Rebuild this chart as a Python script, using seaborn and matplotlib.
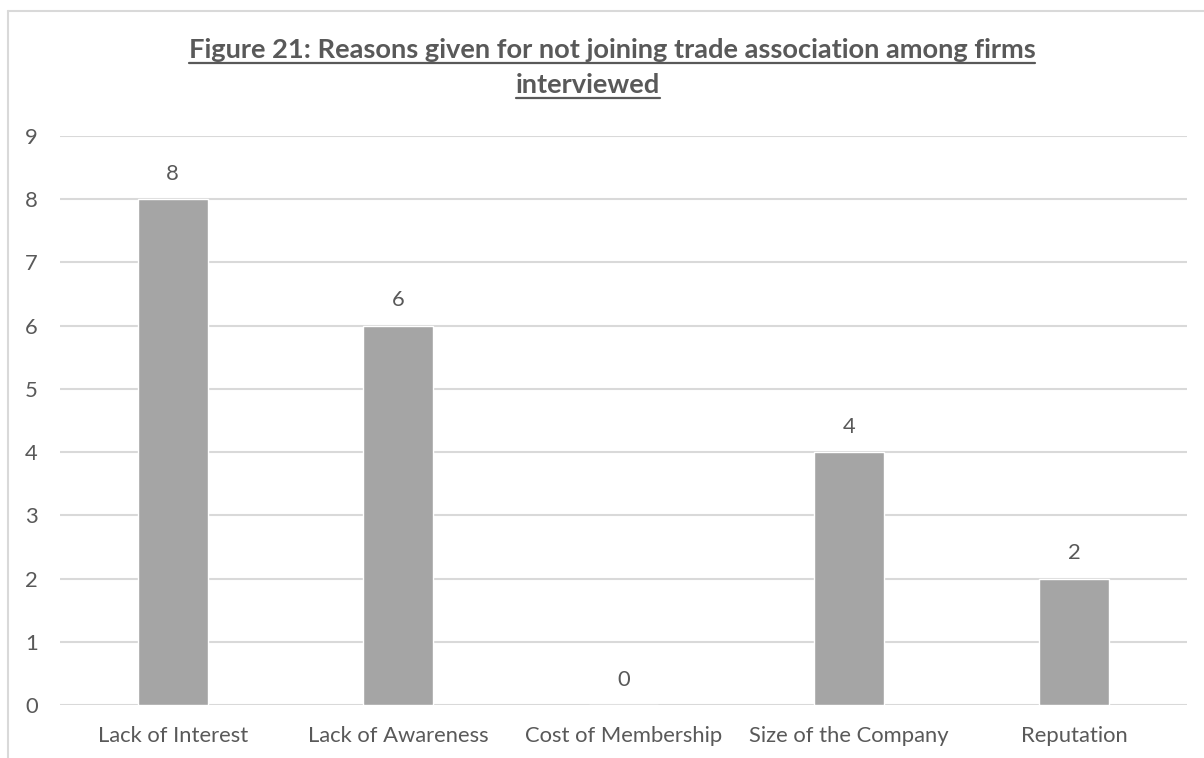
import matplotlib
matplotlib.use("Agg")
import matplotlib.pyplot as plt
from matplotlib.lines import Line2D
import seaborn as sns
import pandas as pd

categories = ["Lack of Interest", "Lack of Awareness", "Cost of Membership",
              "Size of the Company", "Reputation"]
counts = [8, 6, 0, 4, 2]
y_ticks = [0, 1, 2, 3, 4, 5, 6, 7, 8, 9]
title_line1 = "Figure 21: Reasons given for not joining trade association among firms"
title_line2 = "interviewed"

TEXT = "#595959"
GRID = "#D9D9D9"
BAR = "#A5A5A5"

sns.set_theme(style="white")
plt.rcParams["font.family"] = ["Lato", "DejaVu Sans"]

W, H = 1204, 758
fig = plt.figure(figsize=(W / 100, H / 100), dpi=100)
ax = fig.add_axes([60 / W, 1 - 705 / H, (1187 - 60) / W, (705 - 136) / H])

df = pd.DataFrame({"reason": categories, "count": counts})
sns.barplot(data=df, x="reason", y="count", color=BAR, saturation=1,
            width=0.31, ax=ax, zorder=3)

ax.set_ylim(0, 9)
ax.set_xlim(-0.5, len(categories) - 0.5)
ax.set_yticks(y_ticks)
ax.yaxis.grid(True, color=GRID, linewidth=1.5, zorder=0)
ax.set_axisbelow(True)
for s in ax.spines.values():
    s.set_visible(False)
ax.set_xlabel("")
ax.set_ylabel("")
ax.tick_params(axis="y", length=0, pad=16, labelsize=15.8, labelcolor=TEXT)
ax.tick_params(axis="x", length=0, pad=15, labelsize=15.8, labelcolor=TEXT)

for c in ax.containers:
    ax.bar_label(c, labels=[str(v) for v in counts], padding=11,
                 fontsize=15.8, color=TEXT)

# Title, two centred lines, bold and underlined
title_lines = [(title_line1, 612, 58), (title_line2, 588, 93)]
for text, xc, base in title_lines:
    t = fig.text(xc / W, 1 - base / H, text, ha="center", va="baseline",
                 fontsize=19.6, fontweight="bold", color=TEXT)
    fig.canvas.draw()
    bb = t.get_window_extent(fig.canvas.get_renderer())
    yu = 1 - (base + 5) / H
    fig.add_artist(Line2D([bb.x0 / W, bb.x1 / W], [yu, yu],
                          color=TEXT, linewidth=1.6))

# Chart-area frame (left and top edges)
fig.add_artist(Line2D([8 / W, 8 / W], [0, 1 - 11 / H], color=GRID, linewidth=1.5))
fig.add_artist(Line2D([8 / W, 1], [1 - 11 / H, 1 - 11 / H], color=GRID, linewidth=1.5))

fig.savefig("out.png", dpi=100, facecolor="white")
